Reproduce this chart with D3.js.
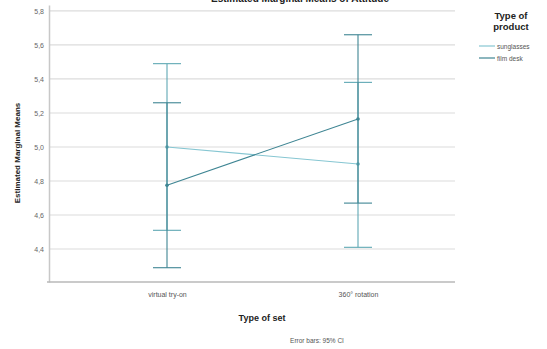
<!DOCTYPE html>
<html>
<head>
<meta charset="utf-8">
<script src="https://cdn.jsdelivr.net/npm/d3@7"></script>
<style>
  html, body { margin: 0; padding: 0; background: #fff; }
  svg { display: block; font-family: Arial, "Liberation Sans", sans-serif; }
</style>
</head>
<body>
<svg id="chart" width="547" height="349"></svg>
<script>
// Estimated marginal means by type of set and type of product, with 95% CIs
const categories = ["virtual try-on", "360° rotation"];
const seriesNames = ["sunglasses", "film desk"];
const sunglassesMean = [5.00, 4.90];
const sunglassesLow  = [4.51, 4.41];
const sunglassesHigh = [5.49, 5.38];
const filmDeskMean = [4.775, 5.165];
const filmDeskLow  = [4.29, 4.67];
const filmDeskHigh = [5.26, 5.66];
const yTicks = [4.4, 4.6, 4.8, 5.0, 5.2, 5.4, 5.6, 5.8];
const lineColors = ["#86c6d2", "#3e8593"];
const barColors = ["#5fa8b4", "#3e8593"];

const svg = d3.select("#chart");

const plot = { left: 49, right: 455, top: 5, bottom: 282 };

const y = d3.scaleLinear().domain([4.206, 5.835]).range([plot.bottom, plot.top]);
const x = d3.scalePoint().domain(categories).range([167, 358]);

const fmt = v => d3.format(".1f")(v).replace(".", ",");

// chart title, running off the top of the canvas
svg.append("text")
  .attr("x", 300).attr("y", 2)
  .attr("text-anchor", "middle")
  .attr("font-size", 10).attr("font-weight", "bold").attr("fill", "#222")
  .text("Estimated Marginal Means of Attitude");

// gridlines
svg.append("g").selectAll("line").data(yTicks).join("line")
  .attr("x1", plot.left).attr("x2", plot.right)
  .attr("y1", d => y(d)).attr("y2", d => y(d))
  .attr("stroke", "#dcdcdc").attr("stroke-width", 1.2);

// y axis
const yAxis = svg.append("g")
  .attr("transform", `translate(${plot.left},0)`)
  .call(d3.axisLeft(y).tickValues(yTicks).tickFormat(fmt).tickSize(0).tickPadding(5));
yAxis.select(".domain").attr("stroke", "#c8c8c8").attr("stroke-width", 1.5);
yAxis.selectAll("text").attr("font-size", 7).attr("fill", "#666").attr("font-family", "Arial, 'Liberation Sans', sans-serif");

// x axis
const xAxis = svg.append("g")
  .attr("transform", `translate(0,${plot.bottom})`)
  .call(d3.axisBottom(x).tickSize(0).tickPadding(10));
xAxis.select(".domain").remove();
svg.append("line")
  .attr("x1", plot.left - 2).attr("x2", plot.right)
  .attr("y1", plot.bottom).attr("y2", plot.bottom)
  .attr("stroke", "#b8b8b8").attr("stroke-width", 1.5);
xAxis.selectAll("text").attr("font-size", 7).attr("fill", "#555").attr("font-family", "Arial, 'Liberation Sans', sans-serif");

// axis titles
svg.append("text")
  .attr("transform", `translate(20,153) rotate(-90)`)
  .attr("text-anchor", "middle")
  .attr("font-size", 8).attr("font-weight", "bold").attr("fill", "#222")
  .text("Estimated Marginal Means");
svg.append("text")
  .attr("x", 262).attr("y", 321)
  .attr("text-anchor", "middle")
  .attr("font-size", 9).attr("font-weight", "bold").attr("fill", "#222")
  .text("Type of set");
svg.append("text")
  .attr("x", 317).attr("y", 343)
  .attr("text-anchor", "middle")
  .attr("font-size", 6.5).attr("fill", "#555")
  .text("Error bars: 95% CI");

const series = [
  { name: seriesNames[0], mean: sunglassesMean, lo: sunglassesLow, hi: sunglassesHigh, color: lineColors[0], bar: barColors[0] },
  { name: seriesNames[1], mean: filmDeskMean, lo: filmDeskLow, hi: filmDeskHigh, color: lineColors[1], bar: barColors[1] }
];

const line = d3.line().x((d, i) => x(categories[i])).y(d => y(d));
const capW = 14;

series.forEach(s => {
  const g = svg.append("g");
  g.append("path").datum(s.mean)
    .attr("d", line).attr("fill", "none")
    .attr("stroke", s.color).attr("stroke-width", 1.1);
  categories.forEach((c, i) => {
    g.append("line")
      .attr("x1", x(c)).attr("x2", x(c))
      .attr("y1", y(s.lo[i])).attr("y2", y(s.hi[i]))
      .attr("stroke", s.bar).attr("stroke-width", 1.1);
    [s.lo[i], s.hi[i]].forEach(v => {
      g.append("line")
        .attr("x1", x(c) - capW).attr("x2", x(c) + capW)
        .attr("y1", y(v)).attr("y2", y(v))
        .attr("stroke", s.bar).attr("stroke-width", 1.1);
    });
    g.append("circle")
      .attr("cx", x(c)).attr("cy", y(s.mean[i])).attr("r", 1.8)
      .attr("fill", s.bar);
  });
});

// legend
const lg = svg.append("g");
lg.append("text").attr("x", 511).attr("y", 19)
  .attr("text-anchor", "middle").attr("font-size", 9.5).attr("font-weight", "bold").attr("fill", "#222")
  .text("Type of");
lg.append("text").attr("x", 511).attr("y", 30)
  .attr("text-anchor", "middle").attr("font-size", 9.5).attr("font-weight", "bold").attr("fill", "#222")
  .text("product");
series.forEach((s, i) => {
  const yy = 46 + i * 12;
  lg.append("line").attr("x1", 479).attr("x2", 495).attr("y1", yy).attr("y2", yy)
    .attr("stroke", s.color).attr("stroke-width", 1.2);
  lg.append("text").attr("x", 497).attr("y", yy + 2.5)
    .attr("font-size", 6.5).attr("fill", "#555")
    .text(s.name);
});
</script>
</body>
</html>
